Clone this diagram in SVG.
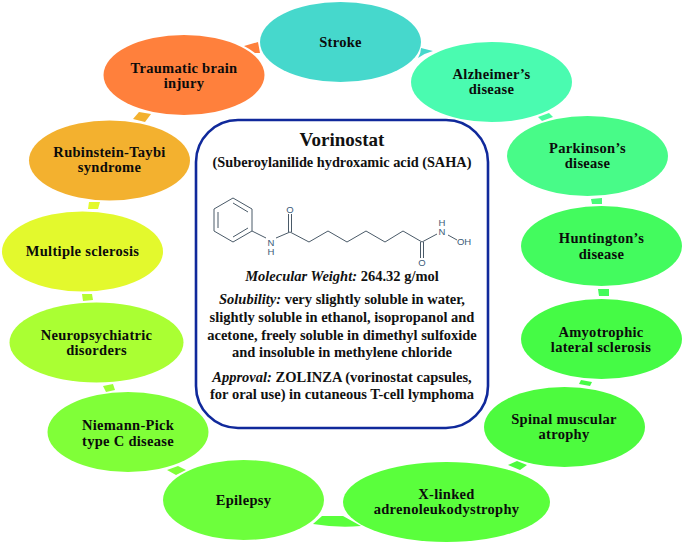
<svg xmlns="http://www.w3.org/2000/svg" width="685" height="544" viewBox="0 0 685 544">
<style>
.l{font-family:"Liberation Serif","Times New Roman",serif;font-weight:700;font-size:14.5px;letter-spacing:.3px;text-anchor:middle;fill:#0b0b0b}
.c{font-family:"Liberation Serif","Times New Roman",serif;font-size:14.5px;font-weight:700;text-anchor:middle;fill:#111}
.i{font-style:italic}
.a{font-family:"Liberation Sans",Arial,sans-serif;font-size:9.5px;text-anchor:middle;fill:#3a5a78}
.b{fill:none;stroke:#4a5a68;stroke-width:1}
</style>
<g id="connectors">
<path fill="#46D8CC" d="M421 48L433 51Q425 53 418 58Q421 53 421 48Z"/>
<path fill="#FF803C" d="M244 46L258 42L260 53L255 53Q250 49 244 46Z"/>
<path fill="#4AFBA0" d="M538 117L549 113L553 117L542 121Z"/>
<path fill="#48FB78" d="M591 199L602 198L602 204L592 204Z"/>
<path fill="#43FB5A" d="M598 289L609 289L609 296L599 296Z"/>
<path fill="#45FB45" d="M579 384L581 380L592 382L590 386Z"/>
<path fill="#4DFB3E" d="M508 465L517 461L527 465L520 470Z"/>
<path fill="#5AFF3C" d="M313 524L322 516L343 516L361 526Q337 528 313 524Z"/>
<path fill="#80FF38" d="M167 470L178 466L186 470L176 475Z"/>
<path fill="#9BFF36" d="M103 386L113 384L115 390L106 392Z"/>
<path fill="#B5FC32" d="M82 294L92 294L93 300L83 301Z"/>
<path fill="#E3F92D" d="M89 202L100 202L98 209L88 209Z"/>
<path fill="#F3B12F" d="M133 119L139 112L151 114L145 122Z"/>
</g>
<g id="n-stroke"><ellipse cx="340.5" cy="42" rx="80.5" ry="40" fill="#46D8CC"/><text class="l" x="340.5" y="47">Stroke</text></g>
<g id="n-alzheimer"><ellipse cx="491.5" cy="82" rx="80.5" ry="40" fill="#4AFBB0"/><text class="l" x="491.5" y="79">Alzheimer’s</text><text class="l" x="491.5" y="94">disease</text></g>
<g id="n-parkinson"><ellipse cx="587.5" cy="156" rx="80.5" ry="40" fill="#48FB88"/><text class="l" x="587.5" y="153">Parkinson’s</text><text class="l" x="587.5" y="168">disease</text></g>
<g id="n-huntington"><ellipse cx="601.5" cy="246" rx="80.5" ry="40" fill="#43FB5E"/><text class="l" x="601.5" y="243">Huntington’s</text><text class="l" x="601.5" y="259">disease</text></g>
<g id="n-als"><ellipse cx="601.5" cy="339" rx="80.5" ry="40" fill="#45FB45"/><text class="l" x="601" y="337">Amyotrophic</text><text class="l" x="601" y="352">lateral sclerosis</text></g>
<g id="n-sma"><ellipse cx="564.5" cy="427" rx="80.5" ry="40" fill="#4DFB3E"/><text class="l" x="564" y="424">Spinal muscular</text><text class="l" x="564" y="439">atrophy</text></g>
<g id="n-xald"><ellipse cx="446.5" cy="502" rx="103.5" ry="40" fill="#5AFF3C"/><text class="l" x="446.5" y="499">X-linked</text><text class="l" x="446.5" y="514">adrenoleukodystrophy</text></g>
<g id="n-epilepsy"><ellipse cx="243.5" cy="500" rx="80.5" ry="40" fill="#6DFF3C"/><text class="l" x="243.5" y="505">Epilepsy</text></g>
<g id="n-niemann"><ellipse cx="128" cy="432" rx="80.5" ry="40" fill="#80FF38"/><text class="l" x="128" y="430">Niemann-Pick</text><text class="l" x="128" y="446">type C disease</text></g>
<g id="n-neuro"><ellipse cx="96.5" cy="342.5" rx="87" ry="40" fill="#AAFF33"/><text class="l" x="96.5" y="340">Neuropsychiatric</text><text class="l" x="96.5" y="355">disorders</text></g>
<g id="n-ms"><ellipse cx="82.5" cy="251.5" rx="80.5" ry="40" fill="#E3F92D"/><text class="l" x="82.5" y="256">Multiple sclerosis</text></g>
<g id="n-rts"><ellipse cx="109.5" cy="160.5" rx="80.5" ry="40" fill="#F3B12F"/><text class="l" x="109.5" y="157">Rubinstein-Taybi</text><text class="l" x="109.5" y="172">syndrome</text></g>
<g id="n-tbi"><ellipse cx="184" cy="75" rx="80.5" ry="40" fill="#FF803C"/><text class="l" x="184" y="73">Traumatic brain</text><text class="l" x="184" y="88">injury</text></g>
<g id="n-center">
<rect x="196" y="120" width="292" height="308" rx="42" fill="#fff" stroke="#10299B" stroke-width="2.6"/>
<text class="c" x="342" y="146" style="font-size:19px">Vorinostat</text>
<text class="c" x="342" y="167" style="font-size:14.3px">(Suberoylanilide hydroxamic acid (SAHA)</text>
<g id="molecule">
<path class="b" d="M233 198L252 209V231L233 242L214 231V209ZM233 203L248 212M248 228L233 237M218 228V212"/>
<path class="b" d="M252 231L266 238M276 238L290 232L309 242L328 231L347 242L366 231L385 242L403 231L422 242L437 234M291.500 232V214M288.500 232V214M423.500 242V258M420.500 242V258M448 235L457 240"/>
<text class="a" x="271" y="245.500">N</text><text class="a" x="271" y="255">H</text>
<text class="a" x="290" y="212.500">O</text>
<text class="a" x="442" y="235">N</text><text class="a" x="442" y="225.500">H</text>
<text class="a" x="464" y="245">OH</text>
<text class="a" x="422" y="266">O</text>
</g>
<text class="c" x="342" y="281"><tspan class="i">Molecular Weight:</tspan> 264.32 g/mol</text>
<text class="c" x="342" y="304"><tspan class="i">Solubility:</tspan> very slightly soluble in water,</text>
<text class="c" x="342" y="322">slightly soluble in ethanol, isopropanol and</text>
<text class="c" x="342" y="340">acetone, freely soluble in dimethyl sulfoxide</text>
<text class="c" x="342" y="357">and insoluble in methylene chloride</text>
<text class="c" x="342" y="382"><tspan class="i">Approval:</tspan> ZOLINZA (vorinostat capsules,</text>
<text class="c" x="342" y="399">for oral use) in cutaneous T-cell lymphoma</text>
</g>
</svg>
